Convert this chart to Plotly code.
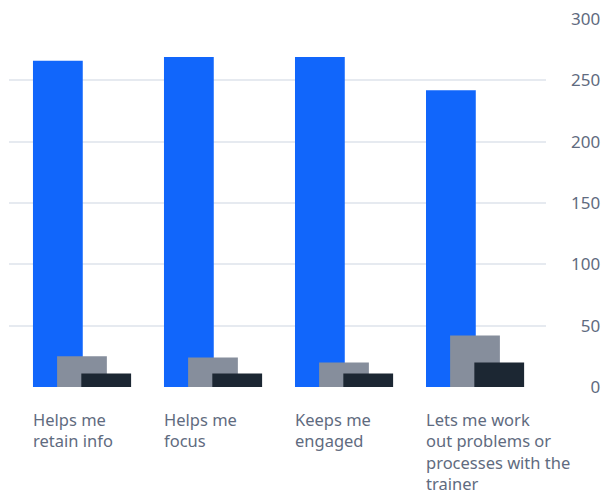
import plotly.graph_objects as go

categories = ["Helps me retain info", "Helps me focus", "Keeps me engaged",
              "Lets me work out problems or processes with the trainer"]
label_lines = ["Helps me<br>retain info", "Helps me<br>focus", "Keeps me<br>engaged",
               "Lets me work<br>out problems or<br>processes with the<br>trainer"]
series_a = [266, 269, 269, 242]
series_b = [25, 24, 20, 42]
series_c = [11, 11, 11, 20]
tick_vals = [0, 50, 100, 150, 200, 250, 300]
tick_text = ["\u2007\u20070", "\u200750", "100", "150", "200", "250", "300"]

FONT = "Noto Sans"
TXT = "#5f6b80"
colors = ["#1166fb", "#868e9c", "#1c2733"]
offsets = [-0.374, -0.19, -0.005]
width = 0.38

x = list(range(len(categories)))
fig = go.Figure()
for vals, col, off in zip([series_a, series_b, series_c], colors, offsets):
    fig.add_trace(go.Bar(x=x, y=vals, marker=dict(color=col, line=dict(width=0)),
                         offset=off, width=width, hoverinfo="y"))

for i, lab in enumerate(label_lines):
    fig.add_annotation(x=i + offsets[0], y=0, xref="x", yref="y", text=lab,
                       xanchor="left", yanchor="top", align="left", showarrow=False,
                       yshift=-19, xshift=-2, font=dict(family=FONT, size=16.5, color=TXT))

fig.update_layout(
    width=605, height=491, barmode="overlay", showlegend=False,
    plot_bgcolor="white", paper_bgcolor="white",
    margin=dict(l=9, r=59, t=19, b=104, autoexpand=False),
    xaxis=dict(range=[-0.557, 3.542], showticklabels=False, showgrid=False,
               zeroline=False, showline=False, fixedrange=True),
    yaxis=dict(side="right", range=[0, 300], tickvals=tick_vals, ticktext=tick_text,
               showgrid=True, gridcolor="#e6eaf0", gridwidth=1.5, zeroline=False,
               showline=False, ticks="", ticklabelstandoff=24,
               tickfont=dict(family=FONT, size=17, color=TXT)),
)
fig.write_html("out.html", config={"displayModeBar": False},
               post_script="document.body.style.margin='0';document.body.style.overflow='hidden';")
